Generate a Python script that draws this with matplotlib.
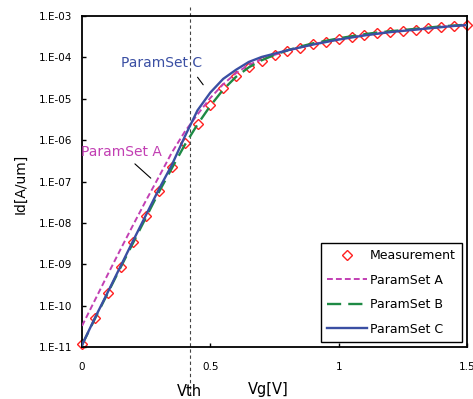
import matplotlib
matplotlib.use('Agg')
import matplotlib.pyplot as plt
import numpy as np

# Gate voltage grid (V)
vg = [0.00, 0.05, 0.10, 0.15, 0.20, 0.25, 0.30, 0.35, 0.40, 0.45, 0.50,
      0.55, 0.60, 0.65, 0.70, 0.75, 0.80, 0.85, 0.90, 0.95, 1.00,
      1.05, 1.10, 1.15, 1.20, 1.25, 1.30, 1.35, 1.40, 1.45, 1.50]

# log10(Id)
meas_log = [-10.93, -10.29, -9.69, -9.07, -8.46, -7.84, -7.23, -6.66, -6.07, -5.61, -5.15,
            -4.75, -4.45, -4.23, -4.08, -3.95, -3.84, -3.77, -3.68, -3.62, -3.56,
            -3.51, -3.46, -3.42, -3.39, -3.37, -3.33, -3.29, -3.27, -3.24, -3.21]
set_a_log = [-10.49, -9.87, -9.25, -8.64, -8.04, -7.45, -6.88, -6.30, -5.80, -5.38, -4.98,
             -4.65, -4.38, -4.18, -4.05, -3.94, -3.84, -3.76, -3.68, -3.62, -3.56,
             -3.51, -3.46, -3.42, -3.38, -3.35, -3.32, -3.29, -3.26, -3.24, -3.21]
set_b_log = [-10.95, -10.32, -9.70, -9.08, -8.47, -7.86, -7.25, -6.68, -6.12, -5.62, -5.17,
             -4.78, -4.47, -4.24, -4.07, -3.94, -3.83, -3.74, -3.66, -3.60, -3.54,
             -3.49, -3.44, -3.40, -3.37, -3.34, -3.31, -3.28, -3.25, -3.23, -3.21]
set_c_log = [-10.95, -10.30, -9.68, -9.05, -8.42, -7.80, -7.18, -6.60, -5.92, -5.28, -4.85,
             -4.52, -4.30, -4.11, -3.99, -3.91, -3.83, -3.76, -3.69, -3.63, -3.57,
             -3.52, -3.47, -3.43, -3.39, -3.36, -3.33, -3.30, -3.27, -3.24, -3.22]

vth = 0.42

yticks = [1e-11, 1e-10, 1e-9, 1e-8, 1e-7, 1e-6, 1e-5, 1e-4, 1e-3]
ytick_labels = ['1.E-11', '1.E-10', '1.E-09', '1.E-08', '1.E-07',
                '1.E-06', '1.E-05', '1.E-04', '1.E-03']
xticks = [0, 0.5, 1, 1.5]
xtick_labels = ['0', '0.5', '1', '1.5']

c_meas = '#ff2020'
c_a = '#c23fb3'
c_b = '#1e8a44'
c_c = '#3a4fa3'

fig = plt.figure(figsize=(4.73, 3.99), dpi=100)
ax = fig.add_axes([0.1734, 0.1303, 0.8139, 0.8296])

vg = np.array(vg)
ax.plot(vg, 10 ** np.array(meas_log), linestyle='none', marker='D', markersize=5.5,
        markerfacecolor='none', markeredgecolor=c_meas, markeredgewidth=1.0,
        label='Measurement', zorder=2, clip_on=False)
ax.plot(vg, 10 ** np.array(set_a_log), color=c_a, lw=1.4, dashes=(3, 1.6), label='ParamSet A', zorder=3)
ax.plot(vg, 10 ** np.array(set_b_log), color=c_b, lw=1.7, dashes=(6, 3), label='ParamSet B', zorder=3)
ax.plot(vg, 10 ** np.array(set_c_log), color=c_c, lw=1.7, label='ParamSet C', zorder=3)

ax.set_yscale('log')
ax.set_xlim(0, 1.5)
ax.set_ylim(1e-11, 1e-3)
ax.set_yticks(yticks)
ax.set_yticklabels(ytick_labels)
ax.minorticks_off()
ax.set_xticks(xticks)
ax.set_xticklabels(xtick_labels)
ax.tick_params(axis='y', direction='in', length=3, width=1, labelsize=7.5, pad=7)
ax.tick_params(axis='x', direction='in', length=3, width=1, labelsize=7.5, pad=11)
for s in ax.spines.values():
    s.set_linewidth(1.3)

# Vth marker line, running past the axes
ax.plot([vth, vth], [-0.145, 1.027], color='#444444', lw=0.8, dashes=(3, 2.5),
        transform=ax.get_xaxis_transform(), clip_on=False)
ax.text(vth, -0.135, 'Vth', transform=ax.get_xaxis_transform(), ha='center', va='center',
        fontsize=10.5)
ax.text(0.725, -0.127, 'Vg[V]', transform=ax.get_xaxis_transform(), ha='center', va='center',
        fontsize=10.5)
fig.text(0.044, 0.54, 'Id[A/um]', rotation=90, ha='center', va='center', fontsize=10)

# Labels with leader lines
ax.text(0.152, 10 ** -4.124, 'ParamSet C', color=c_c, fontsize=10, ha='left', va='center')
ax.annotate('', xy=(0.4786, 10 ** -4.716), xytext=(0.4436, 10 ** -4.426),
            arrowprops=dict(arrowstyle='-', color='black', lw=0.8))
ax.text(-0.004, 10 ** -6.287, 'ParamSet A', color=c_a, fontsize=10, ha='left', va='center')
ax.annotate('', xy=(0.276, 10 ** -6.964), xytext=(0.198, 10 ** -6.529),
            arrowprops=dict(arrowstyle='-', color='black', lw=0.8))

leg = ax.legend(loc='lower right', bbox_to_anchor=(0.987, 0.015), borderaxespad=0,
                fontsize=9, fancybox=False, edgecolor='black', framealpha=1,
                handlelength=3.2, handletextpad=0.2, labelspacing=0.92, borderpad=0.5)
leg.get_frame().set_linewidth(1.0)

fig.savefig('out.png', dpi=100)
